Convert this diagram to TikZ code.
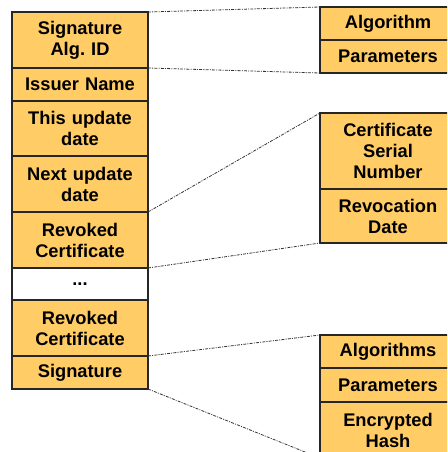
\documentclass[tikz,border=0pt]{standalone}
\usepackage{fontspec}
\setmainfont{Liberation Sans}
\usetikzlibrary{positioning}
\definecolor{crlOrange}{RGB}{255,204,102}
\tikzset{
    crlField/.style={draw=black!85, line width=1.2pt, fill=crlOrange,
		minimum width=136, text width=130, align=center, inner sep=2pt,
		outer sep=0pt, font=\bfseries\fontsize{18.3}{21}\selectfont},
    rowTall/.style={minimum height=56},
    rowShort/.style={minimum height=33},
    zoomLine/.style={draw=black!80, line width=0.8pt,
		dash pattern=on 3pt off 1.2pt on 1pt off 1.2pt}
}
\frenchspacing

\begin{document}
\begin{tikzpicture}[x=1pt,y=-1pt]
			\useasboundingbox (0,0) rectangle (447,452);
			\clip (0,0) rectangle (447,452);
			% CRL fields
			\node[crlField, rowTall, anchor=north west] (sigAlg) at (12,12) {Signature\\Alg. ID};
			\node[crlField, rowShort, below=0pt of sigAlg] (issuer) {Issuer Name};
			\node[crlField, minimum height=55, below=0pt of issuer] (thisUpd) {This update\\date};
			\node[crlField, rowTall, below=0pt of thisUpd] (nextUpd) {Next update\\date};
			\node[crlField, rowTall, below=0pt of nextUpd] (revCertA) {Revoked\\Certificate};
			\node[crlField, minimum height=32, fill=white, below=0pt of revCertA] (dots) {...};
			\node[crlField, rowTall, below=0pt of dots] (revCertB) {Revoked\\Certificate};
			\node[crlField, rowShort, below=0pt of revCertB] (signature) {Signature};
			% detail boxes
			\node[crlField, rowShort, anchor=north west] (algo) at (320,7) {Algorithm};
			\node[crlField, rowShort, below=0pt of algo] (params) {Parameters};
			\node[crlField, minimum height=76, anchor=north west] (serial) at (320,113) {Certificate\\Serial\\Number};
			\node[crlField, minimum height=54, below=0pt of serial] (revDate) {Revocation\\Date};
			\node[crlField, rowShort, anchor=north west] (sigAlgos) at (320,335) {Algorithms};
			\node[crlField, minimum height=34, below=0pt of sigAlgos] (sigParams) {Parameters};
			\node[crlField, rowTall, below=0pt of sigParams] (encHash) {Encrypted\\Hash};
			% zoom lines
			\draw[zoomLine] (sigAlg.north east) -- (algo.north west);
			\draw[zoomLine] (sigAlg.south east) -- (params.south west);
			\draw[zoomLine] (revCertA.north east) -- (serial.north west);
			\draw[zoomLine] (revCertA.south east) -- (revDate.south west);
			\draw[zoomLine] (signature.north east) -- (sigAlgos.north west);
			\draw[zoomLine] (signature.south east) -- (encHash.south west);
\end{tikzpicture}
\end{document}
